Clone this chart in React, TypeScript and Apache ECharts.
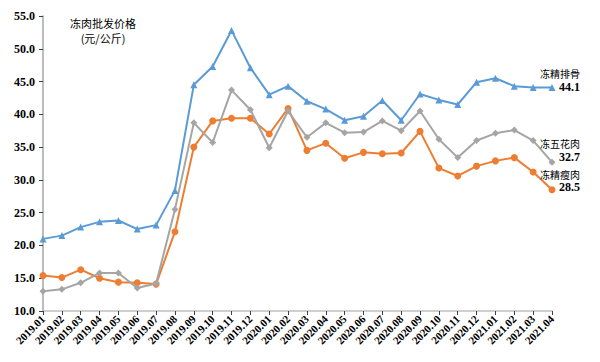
import React, { useEffect, useRef } from "react";
import * as echarts from "echarts";

const categories = [
  "2019.01", "2019.02", "2019.03", "2019.04", "2019.05", "2019.06", "2019.07", "2019.08", "2019.09", "2019.10", "2019.11", "2019.12",
  "2020.01", "2020.02", "2020.03", "2020.04", "2020.05", "2020.06", "2020.07", "2020.08", "2020.09", "2020.10", "2020.11", "2020.12",
  "2021.01", "2021.02", "2021.03", "2021.04",
];

const ribs = [
  21.0, 21.5, 22.8, 23.6, 23.8, 22.5, 23.1, 28.4, 44.5, 47.3, 52.8, 47.1,
  43.0, 44.3, 42.0, 40.8, 39.1, 39.7, 42.1, 39.1, 43.1, 42.2, 41.5, 44.9,
  45.5, 44.3, 44.1, 44.1,
];

const belly = [
  13.0, 13.3, 14.3, 15.8, 15.8, 13.5, 14.2, 25.5, 38.7, 35.7, 43.7, 40.7,
  34.9, 40.5, 36.5, 38.7, 37.2, 37.3, 39.0, 37.5, 40.5, 36.2, 33.4, 36.0,
  37.1, 37.6, 36.0, 32.7,
];

const lean = [
  15.4, 15.1, 16.3, 15.0, 14.4, 14.3, 14.1, 22.1, 35.0, 39.0, 39.4, 39.4,
  37.0, 40.9, 34.5, 35.6, 33.3, 34.2, 34.0, 34.1, 37.4, 31.8, 30.6, 32.1,
  32.9, 33.4, 31.2, 28.5,
];

const seriesNames = ["冻精排骨", "冻五花肉", "冻精瘦肉"];
const colors = ["#5B9BD5", "#A5A5A5", "#ED7D31"];
const symbols = ["triangle", "diamond", "circle"];
const labelOffsets = [[23, -7], [23, -12], [23, -9]];
const titleLines = ["冻肉批发价格", "(元/公斤)"];

const SERIF = "'Liberation Serif', 'Times New Roman', serif";
const CJK = "'Noto Sans CJK SC', sans-serif";

export default function App() {
  const ref = useRef<HTMLDivElement>(null);
  useEffect(() => {
    if (!ref.current) return;
    const chart = echarts.init(ref.current, null, { renderer: "svg" });
    const datasets = [ribs, belly, lean];
    chart.setOption({
      animation: false,
      backgroundColor: "#ffffff",
      grid: { left: 43, right: 48, top: 16, bottom: 51, containLabel: false },
      xAxis: {
        type: "category",
        data: categories,
        boundaryGap: false,
        axisLine: { lineStyle: { color: "#BFBFBF", width: 1.5 } },
        axisTick: { show: true, length: 4, inside: false, lineStyle: { color: "#404040" } },
        axisLabel: {
          interval: 0,
          rotate: 45,
          fontFamily: SERIF,
          fontWeight: "bold",
          fontSize: 11,
          color: "#000",
          margin: 6,
        },
        splitLine: { show: false },
      },
      yAxis: {
        type: "value",
        min: 10,
        max: 55,
        interval: 5,
        axisLine: { show: true, lineStyle: { color: "#A6A6A6", width: 1.5 } },
        axisTick: { show: true, length: 4, lineStyle: { color: "#404040" } },
        axisLabel: {
          fontFamily: SERIF,
          fontWeight: "bold",
          fontSize: 12,
          color: "#000",
          margin: 8,
          formatter: (v: number) => v.toFixed(1),
        },
        splitLine: { show: false },
      },
      graphic: titleLines.map((t, i) => ({
        type: "text",
        x: 103,
        y: 23 + i * 15,
        style: {
          text: t,
          font: `11px ${CJK}`,
          fill: "#000",
          textAlign: "center",
          textVerticalAlign: "middle",
        },
      })),
      series: datasets.map((d, i) => ({
        name: seriesNames[i],
        type: "line",
        data: d,
        symbol: symbols[i],
        symbolSize: 7,
        showSymbol: true,
        itemStyle: { color: colors[i] },
        lineStyle: { color: colors[i], width: 2 },
        z: 3 - i,
        endLabel: {
          show: true,
          distance: 5,
          offset: labelOffsets[i],
          align: "right",
          formatter: (p: any) => `{n|${p.seriesName}}\n{v|${Number(p.value).toFixed(1)}}`,
          rich: {
            n: { fontFamily: CJK, fontSize: 10, color: "#000", align: "right", lineHeight: 13 },
            v: { fontFamily: SERIF, fontSize: 12, fontWeight: "bold", color: "#000", align: "right", lineHeight: 13 },
          },
        },
      })),
    });
    return () => chart.dispose();
  }, []);
  return (
    <div
      ref={ref}
      style={{ position: "absolute", left: 0, top: 0, width: 600, height: 362 }}
    />
  );
}
